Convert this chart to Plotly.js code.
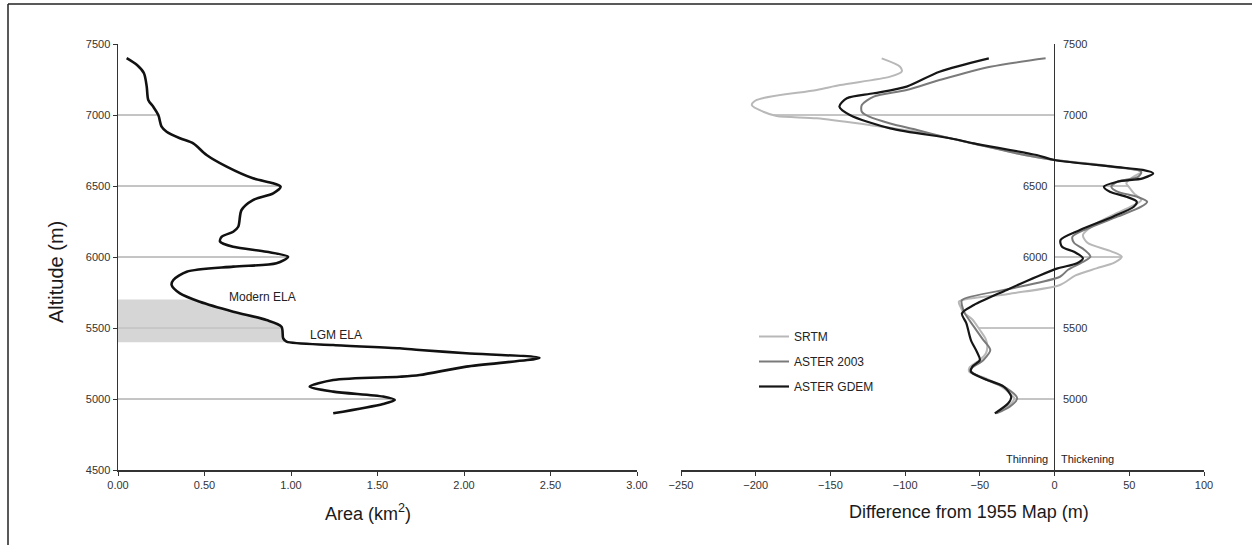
<!DOCTYPE html>
<html>
<head>
<meta charset="utf-8">
<script src="https://cdn.plot.ly/plotly-3.0.1.min.js"></script>
<style>
  html, body { margin: 0; padding: 0; background: #fff; }
  #chart { width: 1252px; height: 545px; }
</style>
</head>
<body>
<div id="chart"></div>
<script>
// ---------- Left panel: glacier area by altitude ----------
const leftAlt  = [7400, 7352, 7294, 7200, 7106, 7058, 7000, 6918, 6882, 6836, 6800, 6718, 6636, 6554, 6519, 6495, 6448, 6401, 6331, 6213, 6178, 6143, 6108, 6072, 6037, 6002, 5956, 5932, 5896, 5838, 5803, 5744, 5685, 5615, 5556, 5509, 5427, 5404, 5380, 5357, 5345, 5322, 5289, 5228, 5169, 5157, 5134, 5087, 5052, 5017, 4993, 4965, 4899];
const leftArea = [0.05, 0.11, 0.15, 0.166, 0.175, 0.204, 0.233, 0.252, 0.281, 0.358, 0.435, 0.512, 0.628, 0.78, 0.897, 0.94, 0.897, 0.78, 0.714, 0.695, 0.666, 0.60, 0.59, 0.666, 0.858, 0.983, 0.916, 0.666, 0.397, 0.32, 0.31, 0.358, 0.473, 0.666, 0.858, 0.945, 0.955, 0.974, 1.244, 1.628, 1.744, 2.013, 2.436, 2.013, 1.744, 1.628, 1.244, 1.108, 1.244, 1.532, 1.60, 1.532, 1.244];

// ELA band (Modern ELA to LGM ELA)
const elaBandTop = 5700;
const elaBandBottom = 5400;

// ---------- Right panel: difference from 1955 map ----------
const srtmAlt  = [7399, 7340, 7305, 7270, 7211, 7176, 7106, 7070, 7023, 6993, 6977, 6930, 6882, 6800, 6718, 6683, 6640, 6600, 6560, 6520, 6490, 6450, 6401, 6360, 6300, 6230, 6155, 6100, 6040, 6002, 5960, 5920, 5870, 5803, 5740, 5686, 5650, 5610, 5560, 5486, 5420, 5369, 5320, 5275, 5220, 5190, 5150, 5090, 5040, 5005, 4960, 4930, 4899];
const srtmDiff = [-115.7, -103.4, -102.3, -110, -143.6, -159.2, -199.3, -202.6, -194.9, -186, -159, -124, -92, -54, -20, 0, 38, 58, 52, 48, 50, 53, 58, 52, 40, 27, 19, 22, 38, 45, 40, 28, 14, 3.6, -31, -64, -63, -61, -55, -50, -46, -45, -46, -50, -57, -57, -47, -36, -30, -27, -30, -35, -39];

const aster03Alt  = [7399, 7340, 7246, 7176, 7129, 7070, 7023, 6988, 6940, 6894, 6836, 6800, 6718, 6683, 6636, 6600, 6565, 6530, 6495, 6460, 6425, 6389, 6354, 6284, 6200, 6143, 6100, 6050, 6002, 5960, 5910, 5861, 5780, 5697, 5660, 5603, 5510, 5420, 5345, 5275, 5204, 5134, 5075, 5005, 4946, 4899];
const aster03Diff = [-6, -43, -77, -99, -121, -129, -129, -124, -110, -92, -70, -55, -20, 0, 38, 58, 56, 42, 38, 42, 55, 62, 58, 42, 22, 12, 13, 20, 24, 18, 9, 3.6, -28, -62, -62, -60, -54, -48, -43, -47.6, -56.4, -45.4, -32, -25, -30, -39];

const gdemAlt  = [7399, 7305, 7200, 7153, 7118, 7059, 7000, 6906, 6836, 6800, 6718, 6683, 6636, 6613, 6589, 6554, 6530, 6495, 6460, 6425, 6389, 6354, 6284, 6190, 6120, 6072, 6037, 5991, 5956, 5920, 5861, 5768, 5662, 5603, 5533, 5415, 5333, 5275, 5228, 5192, 5146, 5087, 5016, 4970, 4899];
const gdemDiff = [-44, -77, -99, -121, -139, -144, -137, -110, -70, -54, -12, 0, 39, 59, 66, 59, 42, 33, 37, 48, 55, 53, 39, 17, 4, 5, 13, 19, 15, 2, -12, -32, -54, -62, -59, -56, -52, -50, -55, -56, -48, -34, -29, -31, -40];

// ---------- Axes ----------
const gridLevels = [5000, 5500, 6000, 6500, 7000];
const altTicks = [4500, 5000, 5500, 6000, 6500, 7000, 7500];
const areaTicks = [0, 0.5, 1.0, 1.5, 2.0, 2.5, 3.0];
const diffTicks = [-250, -200, -150, -100, -50, 0, 50, 100];
const rightTickVals = [5000, 5500, 6000, 6500, 7000, 7500];
const rightTickSide = ['right', 'right', 'left', 'left', 'right', 'right'];

// find where a curve first crosses an altitude level
function reachAt(xs, ys, level) {
  for (let i = 0; i < ys.length - 1; i++) {
    if ((ys[i] - level) * (ys[i + 1] - level) <= 0) {
      const t = (level - ys[i]) / (ys[i + 1] - ys[i]);
      return xs[i] + t * (xs[i + 1] - xs[i]);
    }
  }
  return 0;
}

// ELA band polygon, bounded by axis and the area curve
const bandX = [0, reachAt(leftArea, leftAlt, elaBandTop)];
const bandY = [elaBandTop, elaBandTop];
for (let i = 0; i < leftAlt.length; i++) {
  if (leftAlt[i] < elaBandTop && leftAlt[i] > elaBandBottom) { bandX.push(leftArea[i]); bandY.push(leftAlt[i]); }
}
bandX.push(reachAt(leftArea, leftAlt, elaBandBottom), 0);
bandY.push(elaBandBottom, elaBandBottom);

const FONT = '"Liberation Sans", Arial, sans-serif';

const traces = [
  { x: bandX, y: bandY, type: 'scatter', mode: 'lines', fill: 'toself',
    fillcolor: 'rgba(200,200,200,0.75)', line: { width: 0 }, showlegend: false,
    xaxis: 'x', yaxis: 'y', hoverinfo: 'skip' },
  { x: leftArea, y: leftAlt, type: 'scatter', mode: 'lines', name: 'Area',
    line: { color: '#111', width: 2.6, shape: 'spline', smoothing: 0.8 },
    showlegend: false, xaxis: 'x', yaxis: 'y' },
  { x: srtmDiff, y: srtmAlt, type: 'scatter', mode: 'lines', name: 'SRTM', legendgroup: 'a',
    line: { color: '#b8b8b8', width: 2, shape: 'spline', smoothing: 0.8 }, xaxis: 'x2', yaxis: 'y2' },
  { x: aster03Diff, y: aster03Alt, type: 'scatter', mode: 'lines', name: 'ASTER 2003', legendgroup: 'b',
    line: { color: '#7a7a7a', width: 2, shape: 'spline', smoothing: 0.8 }, xaxis: 'x2', yaxis: 'y2' },
  { x: gdemDiff, y: gdemAlt, type: 'scatter', mode: 'lines', name: 'ASTER GDEM', legendgroup: 'c',
    line: { color: '#161616', width: 2.2, shape: 'spline', smoothing: 0.8 }, xaxis: 'x2', yaxis: 'y2' }
];

const shapes = [];
// page frame (top and left)
shapes.push({ type: 'line', xref: 'paper', yref: 'paper', x0: 8 / 1252, x1: 1.01, y0: 1 - 4 / 545, y1: 1 - 4 / 545, line: { color: '#222', width: 1.5 } });
shapes.push({ type: 'line', xref: 'paper', yref: 'paper', x0: 8 / 1252, x1: 8 / 1252, y0: 1 - 4 / 545, y1: -0.01, line: { color: '#222', width: 1.5 } });
// level lines from axis to the curves
gridLevels.forEach(lv => {
  shapes.push({ type: 'line', xref: 'x', yref: 'y', layer: 'below', x0: 0, x1: reachAt(leftArea, leftAlt, lv), y0: lv, y1: lv, line: { color: '#8a8a8a', width: 1 } });
  shapes.push({ type: 'line', xref: 'x2', yref: 'y2', layer: 'below', x0: 0, x1: reachAt(srtmDiff, srtmAlt, lv), y0: lv, y1: lv, line: { color: '#8a8a8a', width: 1 } });
});

const annotations = [
  { text: 'Altitude (m)', xref: 'paper', yref: 'paper', x: 56 / 1252, y: 1 - 272 / 545, xanchor: 'center', yanchor: 'middle', textangle: -90, showarrow: false, font: { family: FONT, size: 20, color: '#1a1a1a' } },
  { text: 'Area (km<sup>2</sup>)', xref: 'paper', yref: 'paper', x: 368 / 1252, y: 1 - 512 / 545, xanchor: 'center', yanchor: 'middle', showarrow: false, font: { family: FONT, size: 18, color: '#1a1a1a' } },
  { text: 'Difference from 1955 Map (m)', xref: 'paper', yref: 'paper', x: 969 / 1252, y: 1 - 512 / 545, xanchor: 'center', yanchor: 'middle', showarrow: false, font: { family: FONT, size: 18, color: '#1a1a1a' } },
  { text: 'Modern ELA', xref: 'x', yref: 'y', x: 0.837, y: 5720, xanchor: 'center', yanchor: 'middle', showarrow: false, font: { family: FONT, size: 12, color: '#222' } },
  { text: 'LGM ELA', xref: 'x', yref: 'y', x: 1.258, y: 5450, xanchor: 'center', yanchor: 'middle', showarrow: false, font: { family: FONT, size: 12, color: '#222' } },
  { text: 'Thinning', xref: 'x2', yref: 'y2', x: -3, y: 4577, xanchor: 'right', yanchor: 'middle', showarrow: false, font: { family: FONT, size: 11, color: '#222' } },
  { text: 'Thickening', xref: 'x2', yref: 'y2', x: 3, y: 4577, xanchor: 'left', yanchor: 'middle', showarrow: false, font: { family: FONT, size: 11, color: '#222' } }
];
rightTickVals.forEach((v, i) => {
  annotations.push({ text: String(v), xref: 'x2', yref: 'y2', x: rightTickSide[i] === 'right' ? 4 : -4, y: v,
    xanchor: rightTickSide[i] === 'right' ? 'left' : 'right', yanchor: 'middle', showarrow: false,
    font: { family: FONT, size: 11, color: '#333333' } });
});

const yDom = [(545 - 470) / 545, (545 - 44) / 545];
const axCommon = { showgrid: false, zeroline: false, showline: true, linecolor: '#333', linewidth: 1.5,
  ticks: 'outside', ticklen: 4, tickcolor: '#333', tickfont: { family: FONT, size: 11, color: '#333' } };

const layout = {
  width: 1252, height: 545,
  margin: { l: 0, r: 0, t: 0, b: 0 },
  paper_bgcolor: '#fff', plot_bgcolor: 'rgba(0,0,0,0)',
  font: { family: FONT, color: '#333' },
  xaxis: Object.assign({}, axCommon, { domain: [118 / 1252, 637 / 1252], range: [0, 3], tickvals: areaTicks, tickformat: '.2f', anchor: 'y' }),
  yaxis: Object.assign({}, axCommon, { domain: yDom, range: [4500, 7500], tickvals: altTicks, anchor: 'x' }),
  xaxis2: Object.assign({}, axCommon, { domain: [681 / 1252, 1204 / 1252], range: [-250, 100], tickvals: diffTicks, anchor: 'y2',
    zeroline: true, zerolinecolor: '#333', zerolinewidth: 1.5 }),
  yaxis2: { domain: yDom, range: [4500, 7500], anchor: 'x2', showgrid: false, zeroline: false, showline: false, showticklabels: false, ticks: '' },
  showlegend: true,
  legend: { x: 754 / 1252, y: 1 - 322 / 545, xanchor: 'left', yanchor: 'top', bgcolor: 'rgba(0,0,0,0)',
    font: { family: FONT, size: 12, color: '#222' }, tracegroupgap: 6, traceorder: 'grouped' },
  shapes: shapes,
  annotations: annotations
};

Plotly.newPlot('chart', traces, layout, { displayModeBar: false, staticPlot: true });
</script>
</body>
</html>
